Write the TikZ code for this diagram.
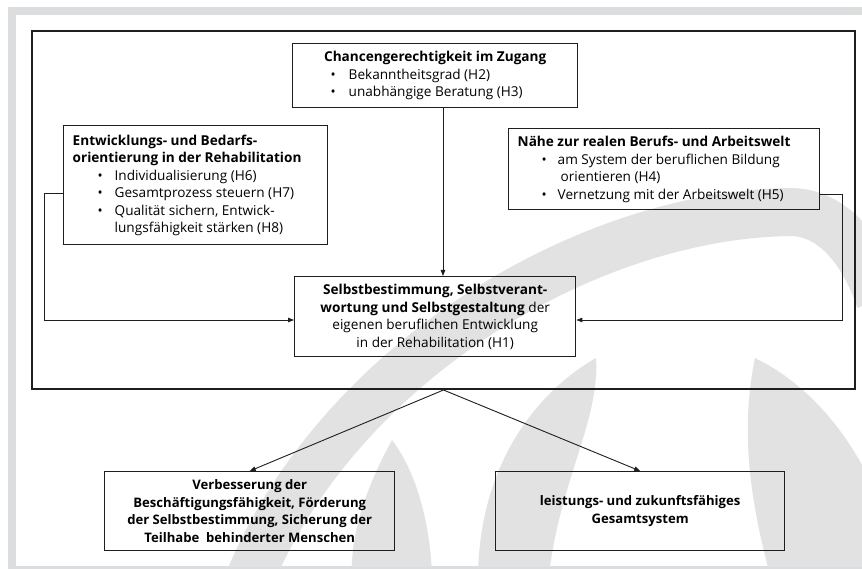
\documentclass[tikz,border=0pt]{standalone}
\usepackage{fontspec}
\setmainfont{Open Sans}
\usetikzlibrary{arrows.meta}
\definecolor{wm}{HTML}{E2E2E3}
\definecolor{framegray}{HTML}{DCDDDE}
\definecolor{ink}{HTML}{1E1E1E}
\newcommand{\bl}[2]{\hspace*{#1}\makebox[#2][l]{•}}
\begin{document}
\begin{tikzpicture}[x=1pt,y=-1pt,
  box/.style={draw=ink, line width=1.4pt, inner sep=0pt, anchor=north west,
    font=\fontsize{13.6}{17.5}\selectfont},
  bbox/.style={box, align=center, font=\fontsize{13.1}{17.5}\selectfont\bfseries},
  outerbox/.style={draw=ink, line width=2pt, inner sep=0pt, anchor=north west},
  conn/.style={draw=ink, line width=0.9pt},
  arr/.style={conn, -{Triangle[length=6pt,width=4.5pt]}}]
\useasboundingbox (0,0) rectangle (862,569);
% frame
\fill[framegray] (8,7) rectangle (862,569);
\fill[white] (16,15) rectangle (862,566);
% watermark
\begin{scope}
\clip (16,15) rectangle (862,566);
\draw[wm, line width=48pt] (245,590) .. controls (330,370) and (580,215) .. (790,212) .. controls (835,212) and (865,255) .. (880,300);
\fill[wm] (392,440) .. controls (370,480) and (350,530) .. (352,575) -- (432,575) .. controls (430,520) and (415,470) .. (392,440) -- cycle;
\fill[wm] (596,358) .. controls (540,390) and (480,460) .. (478,575) -- (549,575) .. controls (560,480) and (600,420) .. (596,358) -- cycle;
\fill[wm] (755,358) .. controls (740,430) and (750,500) .. (770,575) -- (870,575) -- (870,480) .. controls (840,420) and (800,380) .. (755,358) -- cycle;
\end{scope}
% outer frame box
\node[outerbox, minimum width=823pt, minimum height=358pt] (outer) at (31,30) {};
% top box
\node[box, minimum width=285pt, minimum height=64pt] (tb) at (292,43) {\parbox{265pt}{%
  \centering\textbf{Chancengerechtigkeit im Zugang}\par\raggedright
  \bl{28pt}{18pt}Bekanntheitsgrad (H2)\\
  \bl{28pt}{18pt}unabhängige Beratung (H3)}};
% left box
\node[box, minimum width=264pt, minimum height=119pt] (lb) at (63,125) {\parbox{246pt}{\raggedright
  \textbf{Entwicklungs- und Bedarfs-}\\
  \textbf{orientierung in der Rehabilitation}\\
  \bl{25pt}{17pt}Individualisierung (H6)\\
  \bl{25pt}{17pt}Gesamtprozess steuern (H7)\\
  \bl{25pt}{17pt}Qualität sichern, Entwick-\\
  \hspace*{42pt}lungsfähigkeit stärken (H8)}};
% right box
\node[box, minimum width=311pt, minimum height=81pt] (rb) at (508,128) {\parbox{293pt}{\raggedright
  \textbf{Nähe zur realen Berufs- und Arbeitswelt}\\
  \bl{24pt}{16pt}am System der beruflichen Bildung\\
  \hspace*{43pt}orientieren (H4)\\
  \bl{24pt}{16pt}Vernetzung mit der Arbeitswelt (H5)}};
% center box
\node[box, minimum width=281pt, minimum height=80pt, align=center] (cb) at (294,276) {%
  \textbf{Selbstbestimmung, Selbstverant-}\\
  \textbf{wortung und Selbstgestaltung} der\\
  eigenen beruflichen Entwicklung\\
  in der Rehabilitation (H1)};
% bottom boxes
\node[bbox, minimum width=290pt, minimum height=79pt] (bl) at (104,471) {%
  Verbesserung der\\
  Beschäftigungsfähigkeit, Förderung\\
  der Selbstbestimmung, Sicherung der\\
  Teilhabe\ \ behinderter Menschen};
\node[bbox, minimum width=289pt, minimum height=79pt] (br) at (495,471) {%
  leistungs- und zukunftsfähiges\\
  Gesamtsystem};
% connectors
\coordinate (ly) at (0,193);
\coordinate (ry) at (0,194);
\coordinate (cy) at (0,320);
\coordinate (ax) at (443,0);
\draw[arr] (tb.south -| ax) -- (cb.north -| ax);
\draw[arr] (lb.west |- ly) -- ++(-19,0) |- (cb.west |- cy);
\draw[arr] (rb.east |- ry) -- ++(22,0) |- (cb.east |- cy);
\draw[arr] (outer.south) -- (bl.north);
\draw[arr] (outer.south) -- (br.north);
\end{tikzpicture}
\end{document}
